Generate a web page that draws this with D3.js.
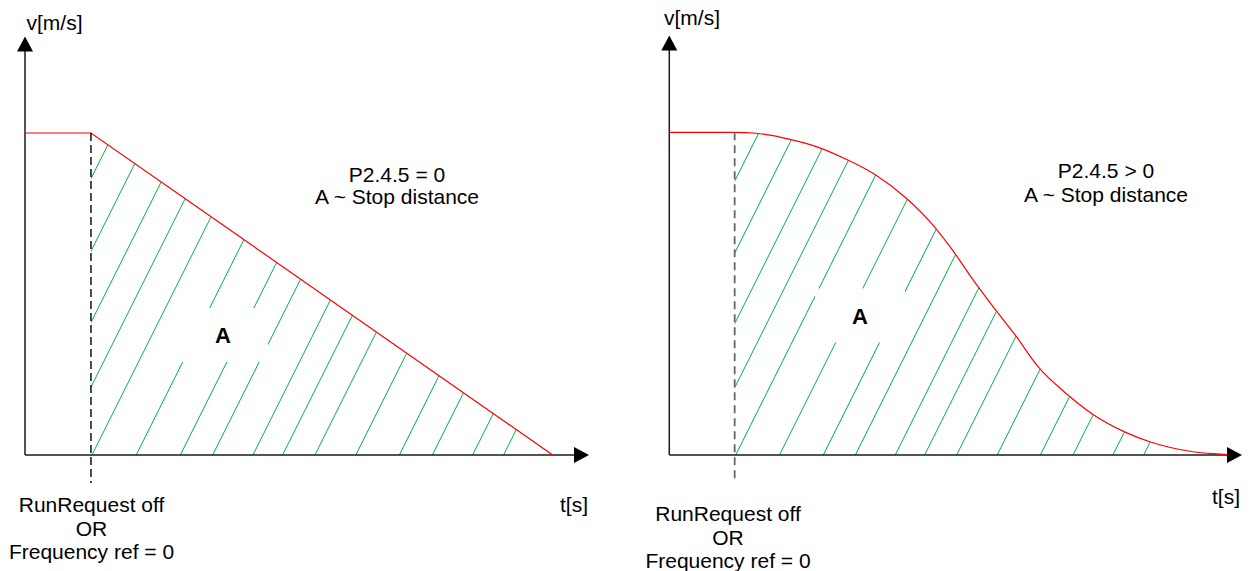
<!DOCTYPE html>
<html><head><meta charset="utf-8">
<script src="https://cdn.jsdelivr.net/npm/d3@7"></script>
<style>body{margin:0;background:#fff} svg{display:block} text{font-family:"Liberation Sans",Arial,sans-serif;fill:#000}</style>
</head><body><svg id="c" width="1250" height="571"></svg>
<script>
// ---- data ----
const stopStart = 1;            // time at which the stop command is given
const vMax = 1.3;               // top of velocity axis
const dashBottom = -0.087;      // dashed marker runs slightly below the t axis
const linearT = [0, 1, 8];
const linearV = [1, 1, 0];
const sCurveT = [0, 1, 1.33, 1.74, 2.26, 2.68, 3.14, 3.63, 4.01, 4.31, 4.65, 4.97, 5.29, 5.64, 6.08, 6.47, 6.98, 7.35, 8.01, 8.42, 8.65];
const sCurveV = [1, 1, 0.997, 0.983, 0.955, 0.919, 0.870, 0.795, 0.718, 0.641, 0.542, 0.455, 0.372, 0.274, 0.189, 0.127, 0.070, 0.041, 0.010, 0.003, 0];
const hatchOffsets = [-2.11, -1.56, -1.02, -0.53, 0, 0.67, 1.34, 1.83, 2.44, 2.89, 3.38, 4.0, 4.66, 5.16, 5.77, 6.24];
const paramLabelsLeft = ["P2.4.5 = 0", "A ~ Stop distance"];
const paramLabelsRight = ["P2.4.5 > 0", "A ~ Stop distance"];
const eventLabels = ["RunRequest off", "OR", "Frequency ref = 0"];
const yLabel = "v[m/s]", xLabel = "t[s]", areaLabel = "A";

// ---- layout ----
const panels = [
  {id: "L", t: linearT, v: linearV, curve: d3.curveLinear, params: paramLabelsLeft,
   xr: [25, 589], tMax: 8.55, yr: [455, 36.4],
   dashColor: "#000", dashWidth: 1.4, dashArray: "8,4",
   yLab: [26.5, 30], paramPos: [397, 181.5, 204], aPos: [223, 335], tPos: [574, 512],
   evPos: [91.5, 512, 535.5, 559]},
  {id: "R", t: sCurveT, v: sCurveV, curve: d3.curveMonotoneX, params: paramLabelsRight,
   xr: [669.3, 1242], tMax: 8.76, yr: [455, 35.5],
   dashColor: "#666", dashWidth: 1.8, dashArray: "8,5",
   yLab: [664, 24.5], paramPos: [1106, 178, 201.5], aPos: [860, 315.5], tPos: [1226, 504],
   evPos: [728, 521, 544.5, 568]}
];

const svg = d3.select("#c");
const defs = svg.append("defs");

panels.forEach(p => {
  const xs = d3.scaleLinear().domain([0, p.tMax]).range(p.xr);
  const ys = d3.scaleLinear().domain([0, vMax]).range(p.yr);
  const pts = p.t.map((t, i) => [t, p.v[i]]);
  const stopPts = pts.filter(d => d[0] >= stopStart);
  const g = svg.append("g");

  // clip region = area under the curve after the stop command
  const area = d3.area().curve(p.curve).x(d => xs(d[0])).y0(ys(0)).y1(d => ys(d[1]));
  defs.append("clipPath").attr("id", "clip" + p.id)
    .append("path").attr("d", area(stopPts));

  // hatching
  const H = 420;
  g.append("g").attr("clip-path", `url(#clip${p.id})`)
    .selectAll("line").data(hatchOffsets).join("line")
    .attr("x1", d => xs(stopStart + d)).attr("y1", ys(0) + 2)
    .attr("x2", d => xs(stopStart + d) + 0.5 * (H + 2)).attr("y2", ys(0) - H)
    .attr("stroke", "#00b050").attr("stroke-width", 1);

  // white label box over the hatching
  g.append("rect").attr("x", p.aPos[0] - 45).attr("y", p.aPos[1] - 27)
    .attr("width", 90).attr("height", 54).attr("fill", "#fff");
  g.append("text").attr("x", p.aPos[0]).attr("y", p.aPos[1] + 8)
    .attr("text-anchor", "middle").attr("font-size", 22).attr("font-weight", "bold")
    .text(areaLabel);

  // axes
  const x0 = xs(0), y0 = ys(0), tipY = ys(vMax), tipX = xs(p.tMax);
  const axisCol = "#1a1a1a";
  g.append("line").attr("x1", x0).attr("y1", y0).attr("x2", x0).attr("y2", tipY + 13)
    .attr("stroke", axisCol).attr("stroke-width", 1.5);
  g.append("line").attr("x1", x0).attr("y1", y0).attr("x2", tipX - 13).attr("y2", y0)
    .attr("stroke", axisCol).attr("stroke-width", 1.5);

  // velocity curve
  const line = d3.line().curve(p.curve).x(d => xs(d[0])).y(d => ys(d[1]));
  g.append("path").attr("d", line(pts)).attr("fill", "none")
    .attr("stroke", "#ff0000").attr("stroke-width", 1.2);

  // arrows
  g.append("path").attr("d", `M${x0},${tipY} L${x0 - 8},${tipY + 15} L${x0 + 8},${tipY + 15} Z`).attr("fill", "#000");
  g.append("path").attr("d", `M${tipX},${y0} L${tipX - 15},${y0 - 8} L${tipX - 15},${y0 + 8} Z`).attr("fill", "#000");

  // dashed stop marker
  g.append("line").attr("x1", xs(stopStart)).attr("x2", xs(stopStart))
    .attr("y1", ys(1)).attr("y2", ys(dashBottom))
    .attr("stroke", p.dashColor).attr("stroke-width", p.dashWidth).attr("stroke-dasharray", p.dashArray);

  // texts
  const fs = 21;
  g.append("text").attr("x", p.yLab[0]).attr("y", p.yLab[1]).attr("font-size", fs).text(yLabel);
  g.append("text").attr("x", p.tPos[0]).attr("y", p.tPos[1]).attr("font-size", fs)
    .attr("text-anchor", "middle").text(xLabel);
  p.params.forEach((s, i) => g.append("text").attr("x", p.paramPos[0]).attr("y", p.paramPos[1 + i])
    .attr("font-size", fs).attr("text-anchor", "middle").text(s));
  eventLabels.forEach((s, i) => g.append("text").attr("x", p.evPos[0]).attr("y", p.evPos[1 + i])
    .attr("font-size", fs).attr("text-anchor", "middle").text(s));
});
</script></body></html>
